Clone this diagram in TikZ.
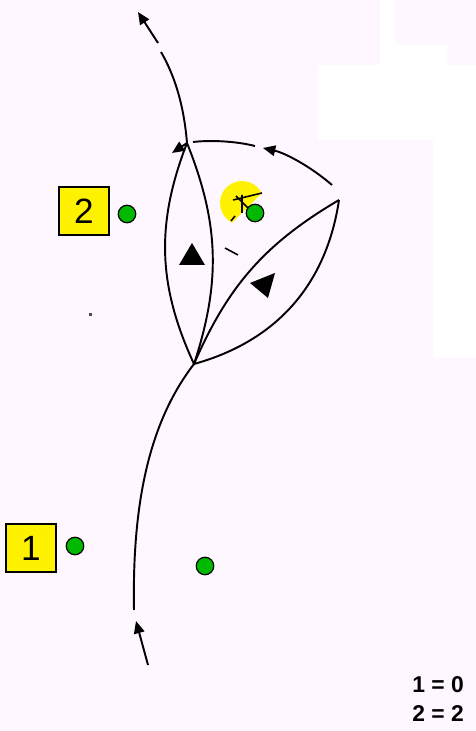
\documentclass[tikz,border=0pt]{standalone}
\usepackage{fontspec}
\setmainfont{Liberation Sans}
\usetikzlibrary{arrows.meta}
\definecolor{bgpink}{RGB}{255,247,255}
\definecolor{sitegreen}{RGB}{0,185,0}

\begin{document}
\begin{tikzpicture}[x=0.02cm,y=0.02cm,
  trail/.style={line width=1.1pt},
  flow/.style={trail,-{Triangle[length=7pt,width=6pt]}},
  site/.style={circle,draw,line width=0.7pt,fill=sitegreen,minimum size=0.35cm,inner sep=0pt},
  tag/.style={draw,line width=1pt,fill=yellow,minimum width=1cm,minimum height=0.95cm,inner sep=0pt,font=\fontsize{20}{24}\selectfont},
  key/.style={anchor=west,inner sep=0pt,font=\bfseries\fontsize{13}{15}\selectfont}]
\useasboundingbox (0,0) rectangle (476,731);
\fill[bgpink] (0,0) rectangle (476,731);
\fill[white] (380,731) -- (395,731) -- (395,686) -- (447,686) -- (447,666) -- (476,666)
  -- (476,373) -- (433,373) -- (433,591) -- (318,591) -- (318,666) -- (380,666) -- cycle;

% corners of the two lenses
\coordinate (J) at (194,367);
\coordinate (T) at (187,588);
\coordinate (R) at (339,531);
% bottom stroke
\coordinate (b0) at (148,66);
\coordinate (b1) at (136,110);
\coordinate (b2) at (134,121);
% top stroke
\coordinate (t1) at (161,679);
\coordinate (t2) at (158,688);
\coordinate (t3) at (138,719);
% arc over the right lens
\coordinate (r1) at (332,546);
\coordinate (a1) at (263,583);
\coordinate (a2) at (255,585);
\coordinate (t0) at (193,589);
\coordinate (tA) at (172,578);

\draw[flow] (b0) -- (b1);
\draw[trail] (b2) .. controls (132,230) and (150,310) .. (J);
\draw[trail] (J) to[bend left=23] (T);
\draw[trail] (J) to[bend right=20] (T);
\draw[trail] (J) to[bend left=18] (R);
\draw[trail] (J) to[bend right=33] (R);
\draw[trail] (T) .. controls (184,625) and (175,655) .. (t1);
\draw[flow] (t2) -- (t3);
\draw[flow] (r1) .. controls (310,565) and (285,578) .. (a1);
\draw[trail] (a2) .. controls (235,590) and (210,591) .. (t0);
\draw[flow] (T) -- (tA);

% heads inside the lenses
\fill (179,466) -- (205,466) -- (192,488) -- cycle;
\fill (250,448) -- (275,458) -- (268,433) -- cycle;
\draw[line width=0.9pt] (225,483) -- (238,476);
\fill[black!70] (89,415) rectangle (92,418);

% sun
\fill[yellow] (242,528) ++(26.6:0.44cm) arc[start angle=26.6, end angle=243.4, radius=0.44cm] -- cycle;
\draw[line width=0.9pt] (233,531) -- (262,538) (242,536) -- (242,518) (236,535) -- (249,522) (231,510) -- (235,515);

\node[tag] (n2) at (84,520) {2};
\node[tag] (n1) at (31,183) {1};
\node[site] (s2) at (127,517) {};
\node[site] (s1) at (75,185) {};
\node[site] (s0) at (205,165) {};
\node[site] (s3) at (255,518) {};

\node[key] (k1) at (412,46) {1 = 0};
\node[key] (k2) at (412,17) {2 = 2};
\end{tikzpicture}
\end{document}
